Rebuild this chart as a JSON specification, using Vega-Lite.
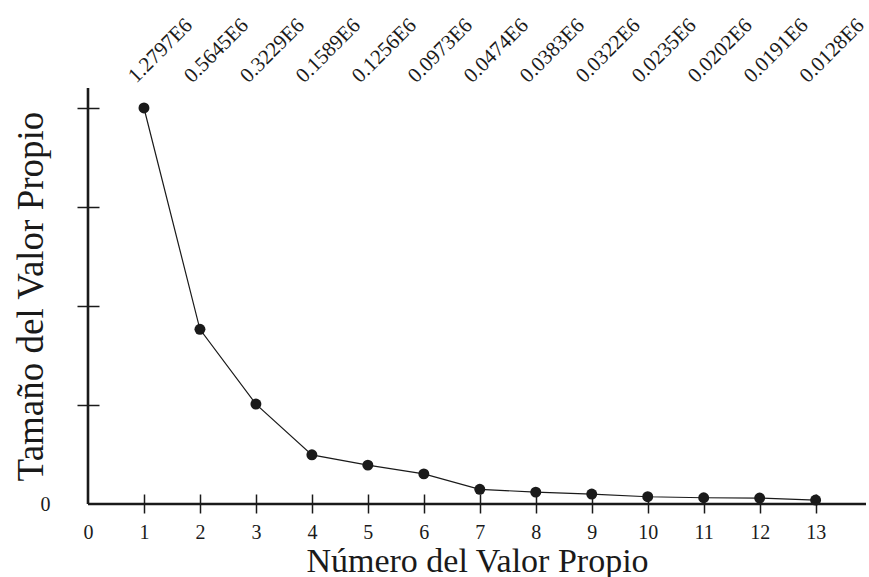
{
  "$schema": "https://vega.github.io/schema/vega-lite/v6.json",
  "width": 778,
  "height": 416,
  "autosize": "none",
  "padding": {"left": 88, "top": 88, "right": 3, "bottom": 73},
  "background": "white",
  "config": {"view": {"stroke": null}, "font": "Liberation Serif"},
  "data": {"values": [
    {"n": 1, "value": 1.2797, "label": "1.2797E6"},
    {"n": 2, "value": 0.5645, "label": "0.5645E6"},
    {"n": 3, "value": 0.3229, "label": "0.3229E6"},
    {"n": 4, "value": 0.1589, "label": "0.1589E6"},
    {"n": 5, "value": 0.1256, "label": "0.1256E6"},
    {"n": 6, "value": 0.0973, "label": "0.0973E6"},
    {"n": 7, "value": 0.0474, "label": "0.0474E6"},
    {"n": 8, "value": 0.0383, "label": "0.0383E6"},
    {"n": 9, "value": 0.0322, "label": "0.0322E6"},
    {"n": 10, "value": 0.0235, "label": "0.0235E6"},
    {"n": 11, "value": 0.0202, "label": "0.0202E6"},
    {"n": 12, "value": 0.0191, "label": "0.0191E6"},
    {"n": 13, "value": 0.0128, "label": "0.0128E6"}
  ]},
  "layer": [
    {
      "mark": {"type": "line", "color": "#1a1a1a", "strokeWidth": 1.2},
      "encoding": {
        "x": {
          "field": "n", "type": "quantitative",
          "scale": {"domain": [0, 13.9], "nice": false, "zero": false},
          "axis": {
            "values": [0, 1, 2, 3, 4, 5, 6, 7, 8, 9, 10, 11, 12, 13],
            "format": "d",
            "offset": -10, "tickSize": 19, "domain": false, "grid": false,
            "tickColor": "#1a1a1a", "tickWidth": 1.5,
            "tickOpacity": {"condition": {"test": "datum.value == 0", "value": 0}, "value": 1},
            "labelFontSize": 20, "labelPadding": 9, "labelColor": "#1a1a1a",
            "labelFlush": false, "labelOverlap": false,
            "title": "Número del Valor Propio", "titleFontSize": 34, "titleFontWeight": "normal",
            "titleColor": "#1a1a1a", "titleX": 389, "titleY": 77, "titleBaseline": "alphabetic", "titleAlign": "center"
          }
        },
        "y": {
          "field": "value", "type": "quantitative",
          "scale": {"domain": [0, 1.3443], "nice": false},
          "axis": {
            "values": [0, 0.3199, 0.6399, 0.9598, 1.2797],
            "offset": -11, "tickSize": 22, "domain": false, "grid": false,
            "tickColor": "#1a1a1a", "tickWidth": 1.5,
            "tickOpacity": {"condition": {"test": "datum.value == 0", "value": 0}, "value": 1},
            "labelExpr": "datum.value == 0 ? '0' : ''",
            "labelFontSize": 20, "labelPadding": 27, "labelColor": "#1a1a1a", "labelFlush": false,
            "title": "Tamaño del Valor Propio", "titleFontSize": 37, "titleFontWeight": "normal",
            "titleColor": "#1a1a1a", "titleX": -57, "titleY": 208, "titleAngle": -90,
            "titleBaseline": "alphabetic", "titleAlign": "center"
          }
        }
      }
    },
    {
      "mark": {"type": "point", "filled": true, "size": 120, "color": "#1a1a1a", "opacity": 1},
      "encoding": {
        "x": {"field": "n", "type": "quantitative"},
        "y": {"field": "value", "type": "quantitative"}
      }
    },
    {
      "data": {"values": [{"origin": 0}]},
      "mark": {"type": "rule", "color": "#1a1a1a", "strokeWidth": 2.6},
      "encoding": {"x": {"field": "origin", "type": "quantitative"}}
    },
    {
      "data": {"values": [{"origin": 0}]},
      "mark": {"type": "rule", "color": "#1a1a1a", "strokeWidth": 2.6},
      "encoding": {"y": {"field": "origin", "type": "quantitative"}}
    },
    {
      "mark": {"type": "text", "angle": 315, "align": "left", "baseline": "alphabetic", "fontSize": 21, "dx": -11, "color": "#1a1a1a"},
      "encoding": {
        "x": {"field": "n", "type": "quantitative"},
        "y": {"datum": 1.383, "type": "quantitative"},
        "text": {"field": "label"}
      }
    }
  ]
}
